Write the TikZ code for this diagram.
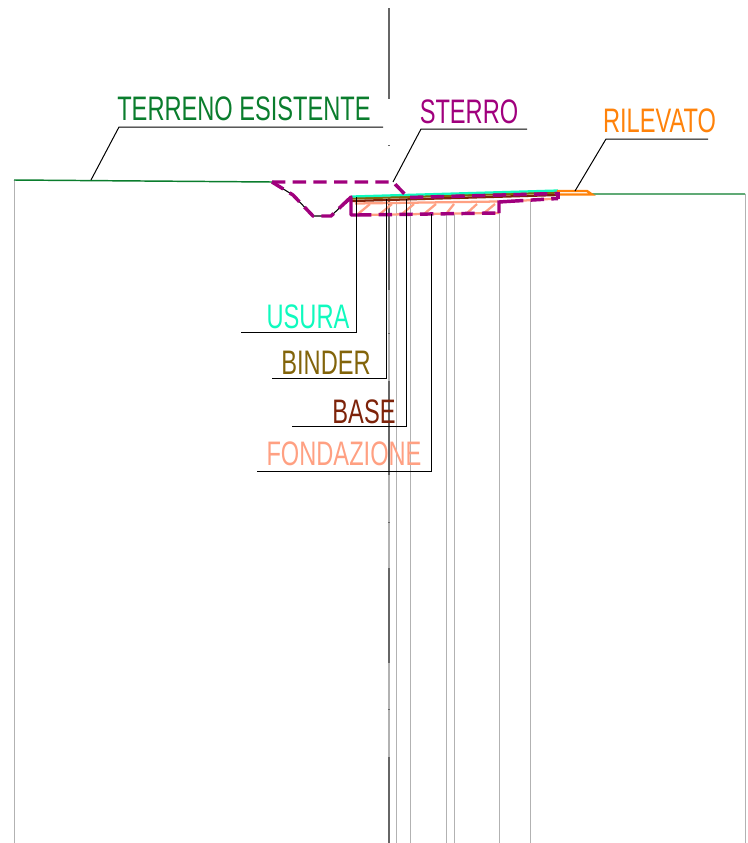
\documentclass[tikz,border=0pt]{standalone}
\usepackage{fontspec}
\setmainfont[FakeStretch=0.695]{Liberation Sans}
\usepackage{xcolor}
\usetikzlibrary{calc}
\definecolor{terrenocol}{RGB}{10,125,45}
\definecolor{sterrocol}{RGB}{160,0,125}
\definecolor{rilevatocol}{RGB}{255,130,10}
\definecolor{usuracol}{RGB}{15,250,190}
\definecolor{bindercol}{RGB}{130,100,10}
\definecolor{basecol}{RGB}{125,35,10}
\definecolor{fondacol}{RGB}{255,160,130}
\tikzset{
    leader/.style={draw=black,line width=0.75pt},
    griglia/.style={draw=black!30,line width=0.7pt},
    asse/.style={draw=black!60,line width=1.3pt},
    strato/.style={line width=1.7pt},
    scavo/.style={draw=sterrocol,line width=2.6pt},
    tratteggio/.style={scavo,dash pattern=on 10pt off 5.5pt},
    etichetta/.style={anchor=base,font=\fontsize{25.5}{25.5}\selectfont,inner sep=0pt}
}
\begin{document}
\begin{tikzpicture}[x=0.75pt,y=-0.75pt]
    \useasboundingbox (0,0) rectangle (747,843);
    % verticali
    \foreach \x/\ytop in {14/180, 396/199, 410/199, 446/213, 454/213, 499/213, 530/201, 745/194} {
        \draw[griglia] (\x,\ytop) -- (\x,843);
    }
    \draw[griglia,line width=1pt] (389,198) -- (389,843);
    \foreach \ya/\yb in {8/99, 145/146, 198/290, 333/334, 381/475, 522/523, 568/663, 709/710, 757/843} {
        \draw[asse] (389,\ya) -- (389,\yb);
    }
    % terreno
    \coordinate (T1) at (14,180);
    \coordinate (T2) at (272,182);
    \coordinate (T3) at (590,194);
    \coordinate (T4) at (745,194);
    \draw[terrenocol,line width=1.1pt] (T1) -- (T2) (T3) -- (T4);
    % fondazione
    \draw[fondacol,strato] (355,203.5) -- (498,201.5);
    \draw[fondacol,strato] (351,215) -- (499,213);
    \draw[fondacol,strato] (499,202) -- (558,198.5);
    \foreach \x/\xx in {358/370, 380/392, 402/414, 424/436, 446/454, 466/477, 483/495} {
        \draw[fondacol,strato] (\x,214) -- (\xx,204);
    }
    % strati
    \draw[basecol,strato] (352,201) -- (558,195);
    \draw[bindercol,strato] (352,198.5) -- (558,192.5);
    \draw[usuracol,line width=1.7pt] (352,196.5) -- (558,190.5);
    % rilevato
    \draw[rilevatocol,line width=1.8pt] (558,191) -- (587,191) -- (592,194.5) -- (558,194.5) -- cycle;
    % sterro
    \draw[black,line width=0.8pt] (T2) -- (293,195) -- (313,216) -- (331,216) -- (351,197);
    \draw[tratteggio] (T2) -- (293,195) -- (313,216) -- (331,216) -- (351,197);
    \draw[scavo,line join=round] (345,203) -- (351,197) -- (351,215) -- (358,215);
    \draw[tratteggio] (T2) -- (393,182) -- (408,197.5) -- (558,193.5);
    \draw[tratteggio] (358,215) -- (499,213);
    \draw[scavo] (499,213) -- (499,202) -- (510,201.3);
    \draw[tratteggio] (510,201.3) -- (558,198.5);
    \draw[scavo] (558,198.5) -- (558,192);
    % linee di richiamo
    \coordinate (Ta) at (383,127);
    \coordinate (Tb) at (119,127);
    \coordinate (Tc) at (91,180);
    \coordinate (Sa) at (527,129);
    \coordinate (Sb) at (421,129);
    \coordinate (Sc) at (393,182);
    \coordinate (Ra) at (708,139);
    \coordinate (Rb) at (606,139);
    \coordinate (Rc) at (575,191);
    \coordinate (Ua) at (241,332);
    \coordinate (Ub) at (356,332);
    \coordinate (Uc) at (356,197);
    \coordinate (Ia) at (272,378);
    \coordinate (Ib) at (386,378);
    \coordinate (Ic) at (386,199);
    \coordinate (Ba) at (292,426);
    \coordinate (Bb) at (406,426);
    \coordinate (Bc) at (406,199);
    \coordinate (Fa) at (257,471);
    \coordinate (Fb) at (431,471);
    \coordinate (Fc) at (431,214);
    \foreach \a/\b/\c in {Ta/Tb/Tc, Sa/Sb/Sc, Ra/Rb/Rc, Ua/Ub/Uc, Ia/Ib/Ic, Ba/Bb/Bc, Fa/Fb/Fc} {
        \draw[leader] (\a) -- (\b) -- (\c);
    }
    % testi
    \node[etichetta,text=terrenocol] (terreno) at (244,120) {TERRENO ESISTENTE};
    \node[etichetta,text=sterrocol] (sterro) at (469,123) {STERRO};
    \node[etichetta,text=rilevatocol] (rilevato) at (659.5,132) {RILEVATO};
    \node[etichetta,text=usuracol] (usura) at (308,328) {USURA};
    \node[etichetta,text=bindercol] (binder) at (326,374) {BINDER};
    \node[etichetta,text=basecol] (base) at (364,423) {BASE};
    \node[etichetta,text=fondacol] (fondazione) at (344,465) {FONDAZIONE};
\end{tikzpicture}
\end{document}
